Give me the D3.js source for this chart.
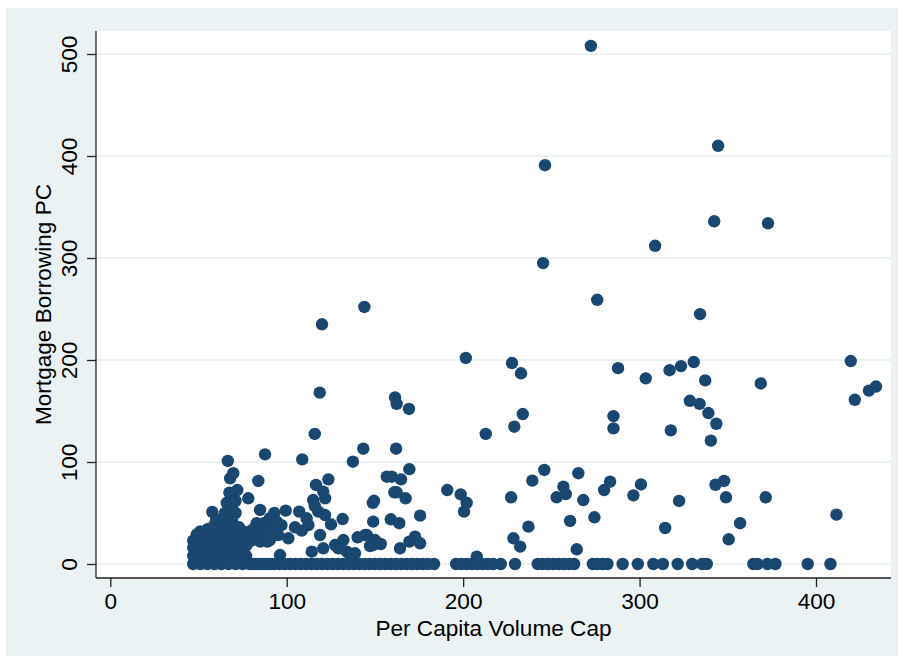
<!DOCTYPE html>
<html><head><meta charset="utf-8">
<script src="https://cdn.jsdelivr.net/npm/d3@7"></script>
<style>body{margin:0;background:#fff}svg{display:block}text{font-family:"Liberation Sans",Arial,sans-serif}</style>
</head><body><svg id="c" width="904" height="664"></svg>
<script>
const xTicks=[0,100,200,300,400];
const yTicks=[0,100,200,300,400,500];
const xTitle="Per Capita Volume Cap";
const yTitle="Mortgage Borrowing PC";

// points with high borrowing
const highPoints=[[272.4,508],[246.4,391],[344.5,410],[342.3,336],[372.8,334],[308.8,312],[245.3,295],[276,259],[334.3,245],[144,252],[120,235]];
// points in the 90-210 band
const midPoints=[[419.7,199],[422,161],[430,170],[434,174],[368.7,177],[303.5,182],[317,190],[323.5,194],[330.7,198],[337.2,180],[328.5,160],[334,157],[339,148],[343.5,137.5],[340.4,121],[317.7,131],
[201.5,202],[227.7,197],[232.8,187],[233.8,147],[229,134.6],[212.8,127.5],[285.2,145],[285.2,133],[287.8,192],
[118.7,168],[115.9,127.5],[161.4,163.4],[162.3,157],[169.3,152],[143.4,113],[162,113],[137.5,100.3],[108.8,102.6],[169.5,93],[246,92.2],[265.3,89]];
// points below 90, cap above 90
const lowPoints=[[116.6,77.5],[123.6,83],[120.7,71],[121.8,64.4],[115,62.7],[115.9,56.9],[117.9,51.3],[121.7,48],[99.4,52.3],[107.1,51.3],[111.3,44.8],[100.9,25.2],[104.7,36],[108.5,32.7],[112.3,38.2],[125.1,38.9],[131.7,44.1],[118.9,28.4],[140.2,26.2],[145.4,28.4],[149,41.5],[149.5,62],[148.8,60],[132.1,23.5],[127.4,18.6],[129.3,15.4],[134,12.1],[135.9,8.8],[120.7,15.4],[114.2,12.1],[147.2,17.6],[150,23.5],[138.7,10.5],
[156.7,85.6],[159.5,85.6],[164.8,83],[161,70.3],[162.3,70.3],[167.4,64.4],[159,43.8],[163.8,40],[175.6,47.4],[144.4,28.4],[149,18.6],[153.3,19.6],[169.5,21.9],[172.7,26.8],[175.6,20.3],[164.2,15.4],[191,72.5],[198.6,68.3],[202,60],[200.5,51.3],[207.7,7.2],[227.2,65.4],[239.2,81.7],[256.8,75.8],[253,65.4],[258.2,68.6],[268.1,62.7],[283.3,80.7],[279.9,72.5],[300.8,78],[296.5,67.3],[237,36.6],[260.6,42.2],[274.4,45.8],[228.5,25.2],[232.3,17],[264.4,14.4],
[343,77.7],[347.9,81.4],[349,65.4],[322.4,61.8],[371.5,65.4],[314.5,35.3],[357,40],[350.5,24.2],[411.6,48.4]];
// dense cluster at small caps
const clusterPoints=[[47,0],[47,8],[47,16],[47,23],[49,4],[49,12],[49,20],[49,29],[51,0],[51,8],[51,16],[51,25],[51,32],[53,4],[53,12],[53,21],[53,30],
[55,0],[55,8],[55,17],[55,26],[55,34],[57,4],[57,13],[57,23],[57,31],[57.8,51],[59,0],[59,9],[59,19],[59,28],[59,38],[60,44],
[61,5],[61,15],[61,25],[61,34],[63,0],[63,11],[63,21],[63,30],[63,40],[65,4],[65,17],[65,28],[65,38],[65,50],[66,60],
[67,0],[67,10],[67,24],[67,34],[67,46],[67.5,70],[67.9,84],[66.6,101],[69,6],[69,16],[69,30],[69,42],[69,56],[69.7,89],
[71,0],[71,12],[71,22],[71,36],[71,50],[71,62],[72,72.5],[73,4],[73,18],[73,28],[73,36],[75,0],[75,10],[75,24],[75,32],
[77,8],[77,18],[77,28],[78.2,64.4],[79,0],[79,22],[79,32],[81,0],[81,24],[81,34],[83,0],[83,28],[83,40],[83.9,81.4],
[85,0],[85,22],[85,34],[84.9,53],[87,0],[87,28],[87,40],[87.7,107.5],[89,0],[89,22],[89,34],[91,0],[90.5,45],[90.5,23.5],
[92,35],[93,50],[94.3,41.5],[95.2,28.4],[96.2,8.8],[97,38]];
// caps with zero borrowing
const zeroCaps=[93,96,99,102,105,108,111,114,117,120,123,126,129,132,135,138,141,144,147,150,153,156,159,162,165,168,171,174,177,180,183.5,
196,199,202,205,208,211,214,217,221.3,229.4,242.3,245,248,251,254,257,260,262.9,273.5,276,279,281.8,290.4,299,307.8,313.2,321.6,329.8,335.5,338.1,364.5,366.8,372.5,377,395.3,408.2];

const W=904,H=664;
const plot={left:96,right:891,top:31,bottom:578};
const x=d3.scaleLinear().domain([0,400]).range([110.3,816]);
const y=d3.scaleLinear().domain([0,500]).range([564,54]);
const svg=d3.select("#c");
const FS=22.6;

svg.append("rect").attr("x",0).attr("y",0).attr("width",W).attr("height",H).attr("fill","#ffffff");
svg.append("rect").attr("x",6).attr("y",8).attr("width",892).attr("height",648).attr("fill","#eaf2f3");
svg.append("rect").attr("x",plot.left).attr("y",plot.top).attr("width",plot.right-plot.left).attr("height",plot.bottom-plot.top).attr("fill","#ffffff");

svg.append("g").selectAll("line").data(yTicks).join("line")
  .attr("x1",plot.left).attr("x2",plot.right).attr("y1",d=>y(d)).attr("y2",d=>y(d))
  .attr("stroke","#eaf2f3").attr("stroke-width",2);

const all=[...clusterPoints,...lowPoints,...midPoints,...highPoints,...zeroCaps.map(v=>[v,0])];
svg.append("g").selectAll("circle").data(all).join("circle")
  .attr("cx",d=>x(d[0])).attr("cy",d=>y(d[1])).attr("r",6.2).attr("fill","#1a476f");

const gx=svg.append("g").attr("transform",`translate(0,${plot.bottom})`)
  .call(d3.axisBottom(x).tickValues(xTicks).tickSize(9).tickFormat(d3.format("d")));
gx.select(".domain").remove();
gx.selectAll(".tick line").attr("stroke","#222").attr("stroke-width",1.3);
gx.selectAll(".tick text").attr("y",30.5).attr("dy",0).attr("font-size",FS).attr("fill","#000").attr("font-family","Liberation Sans, Arial, sans-serif");

const gy=svg.append("g").attr("transform",`translate(${plot.left},0)`)
  .call(d3.axisLeft(y).tickValues(yTicks).tickSize(9).tickFormat(d3.format("d")));
gy.select(".domain").remove();
gy.selectAll(".tick line").attr("stroke","#222").attr("stroke-width",1.3);
gy.selectAll(".tick text").attr("x",0).attr("y",0).attr("dy",0)
  .attr("transform","translate(-19,0) rotate(-90)").attr("text-anchor","middle")
  .attr("font-size",FS).attr("fill","#000").attr("font-family","Liberation Sans, Arial, sans-serif");

svg.append("line").attr("x1",plot.left).attr("x2",plot.left).attr("y1",plot.top).attr("y2",plot.bottom).attr("stroke","#222").attr("stroke-width",1.3);
svg.append("line").attr("x1",plot.left).attr("x2",plot.right).attr("y1",plot.bottom).attr("y2",plot.bottom).attr("stroke","#222").attr("stroke-width",1.3);

svg.append("text").attr("x",(plot.left+plot.right)/2).attr("y",635.5).attr("text-anchor","middle")
  .attr("font-size",FS).attr("fill","#000").text(xTitle);
svg.append("text").attr("transform",`translate(50.5,${(plot.top+plot.bottom)/2}) rotate(-90)`).attr("text-anchor","middle")
  .attr("font-size",FS).attr("fill","#000").text(yTitle);
</script></body></html>
